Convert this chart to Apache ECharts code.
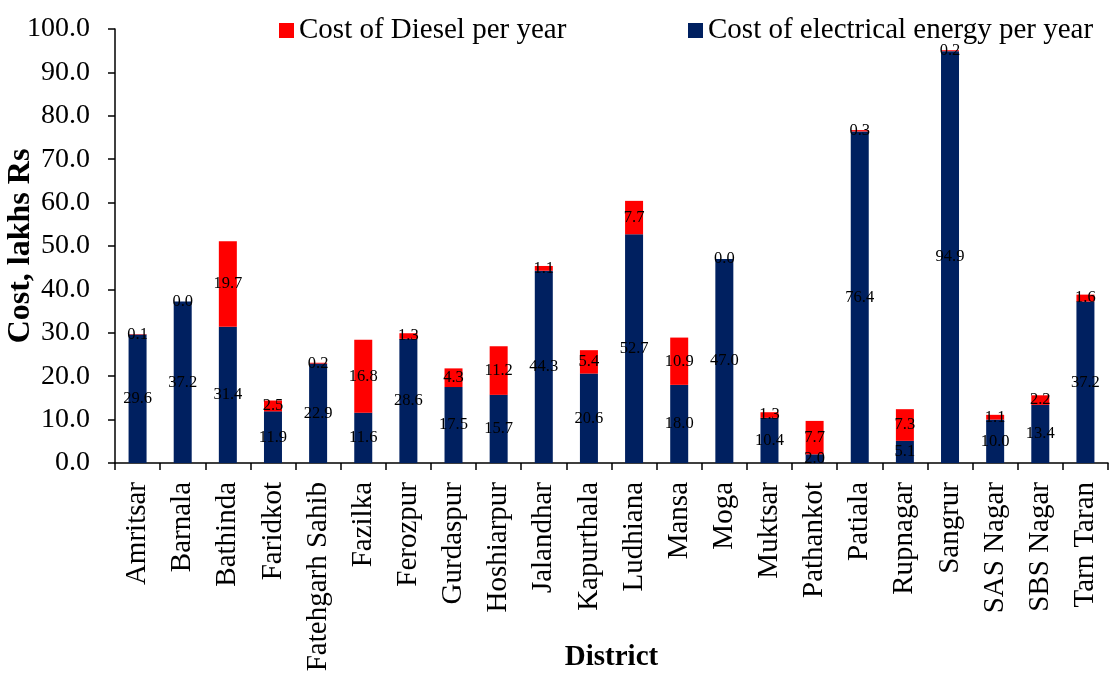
<!DOCTYPE html>
<html>
<head>
<meta charset="utf-8">
<script src="https://cdn.jsdelivr.net/npm/echarts@6/dist/echarts.min.js"></script>
<style>
html,body{margin:0;padding:0;background:#fff;}
#chart{width:1109px;height:677px;}
</style>
</head>
<body>
<div id="chart"></div>
<script>
const districts = ["Amritsar","Barnala","Bathinda","Faridkot","Fatehgarh Sahib","Fazilka","Ferozpur","Gurdaspur","Hoshiarpur","Jalandhar","Kapurthala","Ludhiana","Mansa","Moga","Muktsar","Pathankot","Patiala","Rupnagar","Sangrur","SAS Nagar","SBS Nagar","Tarn Taran"];
const electricalCost = [29.6,37.2,31.4,11.9,22.9,11.6,28.6,17.5,15.7,44.3,20.6,52.7,18.0,47.0,10.4,2.0,76.4,5.1,94.9,10.0,13.4,37.2];
const dieselCost = [0.1,0.0,19.7,2.5,0.2,16.8,1.3,4.3,11.2,1.1,5.4,7.7,10.9,0.0,1.3,7.7,0.3,7.3,0.2,1.1,2.2,1.6];
const yTicks = {min:0, max:100, interval:10};

const FONT = '"Times New Roman", "Liberation Serif", serif';
const chart = echarts.init(document.getElementById('chart'), null, {renderer:'canvas'});
const lbl = {
  show:true, position:'inside', color:'#000', fontSize:16.5, fontFamily:FONT,
  formatter: p => Number(p.value).toFixed(1)
};
chart.setOption({
  animation:false,
  backgroundColor:'#fff',
  textStyle:{fontFamily:FONT},
  legend:[
    {data:['Cost of Diesel per year'], left:274, top:11, itemWidth:15, itemHeight:15, icon:'rect',
     textStyle:{fontSize:29, fontFamily:FONT, color:'#000', lineHeight:29}},
    {data:['Cost of electrical energy per year'], left:683, top:11, itemWidth:15, itemHeight:15, icon:'rect',
     textStyle:{fontSize:29, fontFamily:FONT, color:'#000', lineHeight:29}}
  ],
  grid:{left:115, right:1, top:29, bottom:214, containLabel:false, outerBoundsMode:'none'},
  xAxis:{
    type:'category', data:districts,
    name:'District', nameLocation:'middle', nameGap:195, nameMoveOverlap:false,
    nameTextStyle:{fontSize:29, fontWeight:'bold', fontFamily:FONT, color:'#000', verticalAlign:'middle'},
    axisLine:{lineStyle:{color:'#000', width:1.5}},
    axisTick:{show:true, length:7, lineStyle:{color:'#000', width:1.5}},
    axisLabel:{rotate:90, fontSize:29, fontFamily:FONT, color:'#000', margin:19, interval:0}
  },
  yAxis:{
    type:'value', min:yTicks.min, max:yTicks.max, interval:yTicks.interval,
    name:'Cost, lakhs Rs', nameLocation:'middle', nameGap:94, nameRotate:90, nameMoveOverlap:false,
    nameTextStyle:{fontSize:32, fontWeight:'bold', fontFamily:FONT, color:'#000', verticalAlign:'middle'},
    axisLine:{show:true, lineStyle:{color:'#000', width:1.5}},
    axisTick:{show:true, length:7, lineStyle:{color:'#000', width:1.5}},
    axisLabel:{fontSize:28, fontFamily:FONT, color:'#000', margin:25, formatter:v=>v.toFixed(1)},
    splitLine:{show:false}
  },
  series:[
    {name:'Cost of electrical energy per year', type:'bar', stack:'cost', data:electricalCost,
     barWidth:18, itemStyle:{color:'#002060'}, label:lbl},
    {name:'Cost of Diesel per year', type:'bar', stack:'cost', data:dieselCost,
     barWidth:18, itemStyle:{color:'#FF0000'}, label:lbl}
  ]
});
</script>
</body>
</html>
